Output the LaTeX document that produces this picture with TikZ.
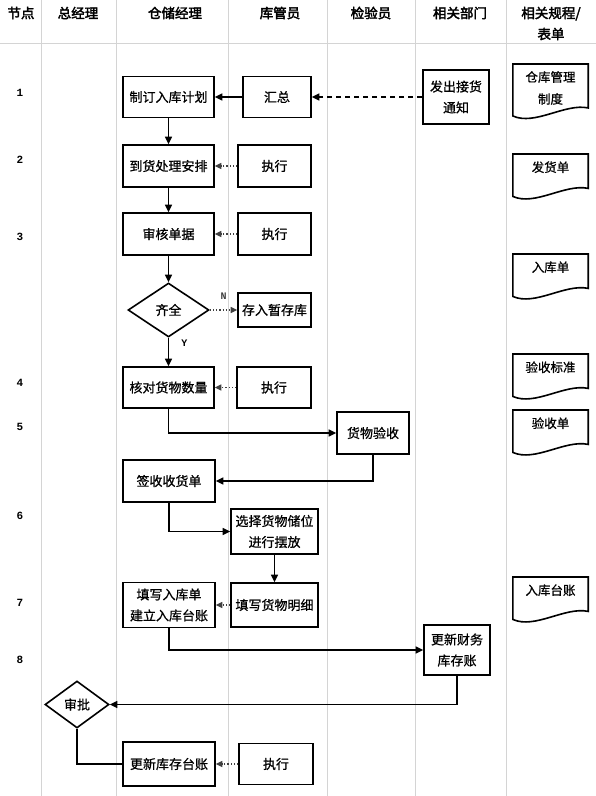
\documentclass[tikz,border=0pt]{standalone}
\usepackage{fontspec}
\setmainfont{Noto Sans CJK SC}
\newfontfamily\headfont[FakeBold=2.5]{Noto Sans CJK SC}
\newfontfamily\boxfont[FakeBold=0.8]{Noto Sans CJK SC}
\newfontfamily\numfont{Liberation Mono}
\usetikzlibrary{arrows.meta,shapes.geometric}

\begin{document}
\begin{tikzpicture}[x=1pt,y=-1pt,%
  % common options for the lanes and their titles:
  lane/.style = {draw=black!17, line width=0.9pt},
  head/.style = {font=\headfont\fontsize{13.5}{21}\selectfont, align=center, inner sep=0},
  rowno/.style = {font=\numfont\bfseries\fontsize{11}{13}\selectfont, inner sep=0},
  % common options for blocks:
  block/.style = {draw, line width=1.6pt, align=center, minimum width=92pt,
              minimum height=42pt, inner sep=0, font=\boxfont\fontsize{13}{21}\selectfont},
  choice/.style = {diamond, draw, line width=1.6pt, inner sep=0,
              font=\boxfont\fontsize{13}{15}\selectfont},
  docbox/.style = {anchor=north, align=center, minimum width=75pt, minimum height=26pt,
              inner xsep=0, inner ysep=1pt, font=\boxfont\fontsize{12.5}{22}\selectfont},
  % common options for the connectors:
  flow/.style = {line width=1.5pt, -{Triangle[length=7.5pt,width=7pt]}},
  help/.style = {line width=1.2pt, black!75, dotted, -{Triangle[length=6.5pt,width=6pt]}},
  yesno/.style = {font=\numfont\bfseries\fontsize{10}{12}\selectfont, inner sep=0}]
\useasboundingbox (0,0) rectangle (596,796);
% lanes
\foreach \x in {41,116,228,327,415,506}
  \draw[lane] (\x,0) -- (\x,796);
\draw[lane] (0,43) -- (596,43);
\node[head] (hNode) at (21,13) {节点};
\node[head] (hBoss) at (78,13) {总经理};
\node[head] (hStore) at (175,13) {仓储经理};
\node[head] (hKeeper) at (280,13) {库管员};
\node[head] (hCheck) at (371,13) {检验员};
\node[head] (hDept) at (460,13) {相关部门};
\node[head] (hRule) at (551,23.5) {相关规程/\\表单};
% node numbers
\node[rowno] (n1) at (20,93) {1};
\node[rowno] (n2) at (20,160) {2};
\node[rowno] (n3) at (20,237) {3};
\node[rowno] (n4) at (20,383) {4};
\node[rowno] (n5) at (20,427) {5};
\node[rowno] (n6) at (20,516) {6};
\node[rowno] (n7) at (20,603) {7};
\node[rowno] (n8) at (20,660) {8};
% blocks
\node[block, minimum width=91pt, minimum height=41pt] (plan) at (168.5,97) {制订入库计划};
\node[block, minimum width=68pt, minimum height=41pt] (collect) at (277,97) {汇总};
\node[block, minimum width=66pt, minimum height=54pt] (notice) at (456,97) {发出接货\\通知};
\node[block, minimum width=91pt] (arrange) at (168.5,166) {到货处理安排};
\node[block, minimum width=73pt] (exec2) at (274.5,166) {执行};
\node[block, minimum width=91pt] (audit) at (168.5,234) {审核单据};
\node[block, minimum width=73pt] (exec3) at (274.5,234) {执行};
\node[choice, minimum width=81pt, minimum height=54pt] (complete) at (168.5,310) {齐全};
\node[block, minimum width=73pt, minimum height=34pt] (hold) at (274.5,310) {存入暂存库};
\node[block, minimum width=91pt, minimum height=41pt] (count) at (168.5,387.5) {核对货物数量};
\node[block, minimum width=74pt, minimum height=41pt] (exec4) at (274,387.5) {执行};
\node[block, minimum width=72pt] (inspect) at (373,433) {货物验收};
\node[block] (sign) at (169,481) {签收收货单};
\node[block, minimum width=87pt, minimum height=45pt] (place) at (274.5,531.5) {选择货物储位\\进行摆放};
\node[block, minimum width=87pt, minimum height=44pt] (detail) at (274.5,605) {填写货物明细};
\node[block, minimum height=45pt] (ledger) at (169,605) {填写入库单\\建立入库台账};
\node[block, minimum width=66pt, minimum height=50pt] (finance) at (457,650) {更新财务\\库存账};
\node[choice, minimum width=64pt, minimum height=47pt] (approve) at (77,704.5) {审批};
\node[block, minimum height=44pt] (update) at (169,764) {更新库存台账};
\node[block, minimum width=74pt, minimum height=41pt] (exec8) at (276,764) {执行};
% rules and forms
\node[docbox] (rule1) at (550.5,70) {仓库管理\\制度};
\node[docbox] (rule2) at (550.5,154) {发货单};
\node[docbox] (rule3) at (550.5,254) {入库单};
\node[docbox] (rule4) at (550.5,354) {验收标准};
\node[docbox] (rule5) at (550.5,410) {验收单};
\node[docbox] (rule6) at (550.5,577) {入库台账};
\foreach \d/\t in {rule1/6,rule2/0,rule3/0,rule4/0,rule5/0,rule6/0}
  \draw[line width=1.6pt] ([shift={(0,-\t)}]\d.north west) -- ([shift={(0,-\t)}]\d.north east)
    -- ([shift={(0,8-\t)}]\d.south east)
    .. controls ([shift={(-23,3-\t)}]\d.south east) and ([shift={(22,26-\t)}]\d.south west)
    .. ([shift={(0,16-\t)}]\d.south west) -- cycle;
% connectors
\draw[flow] (collect) -- (plan);
\draw[flow, dash pattern=on 5pt off 4pt] (notice) -- (collect);
\draw[flow] (plan) -- (arrange);
\draw[help] (exec2) -- (arrange);
\draw[flow] (arrange) -- (audit);
\draw[help] (exec3) -- (audit);
\draw[flow] (audit) -- (complete);
\draw[help] (complete) -- node[yesno, above=10pt] (markN) {N} (hold);
\draw[flow] (complete) -- node[yesno, pos=0.2, right=12pt] (markY) {Y} (count);
\draw[help] (exec4) -- (count);
\draw[flow] (count.south) |- (inspect.west);
\draw[flow] (inspect.south) |- (sign.east);
\draw[flow] (sign.south) |- (place.west);
\draw[flow] (place) -- (detail);
\draw[help] (detail) -- (ledger);
\draw[flow] (ledger.south) |- (finance.west);
\draw[flow] (finance.south) |- (approve.east);
\draw[line width=1.5pt] (approve.south) |- (update.west);
\draw[help] (exec8) -- (update);
\end{tikzpicture}
\end{document}
